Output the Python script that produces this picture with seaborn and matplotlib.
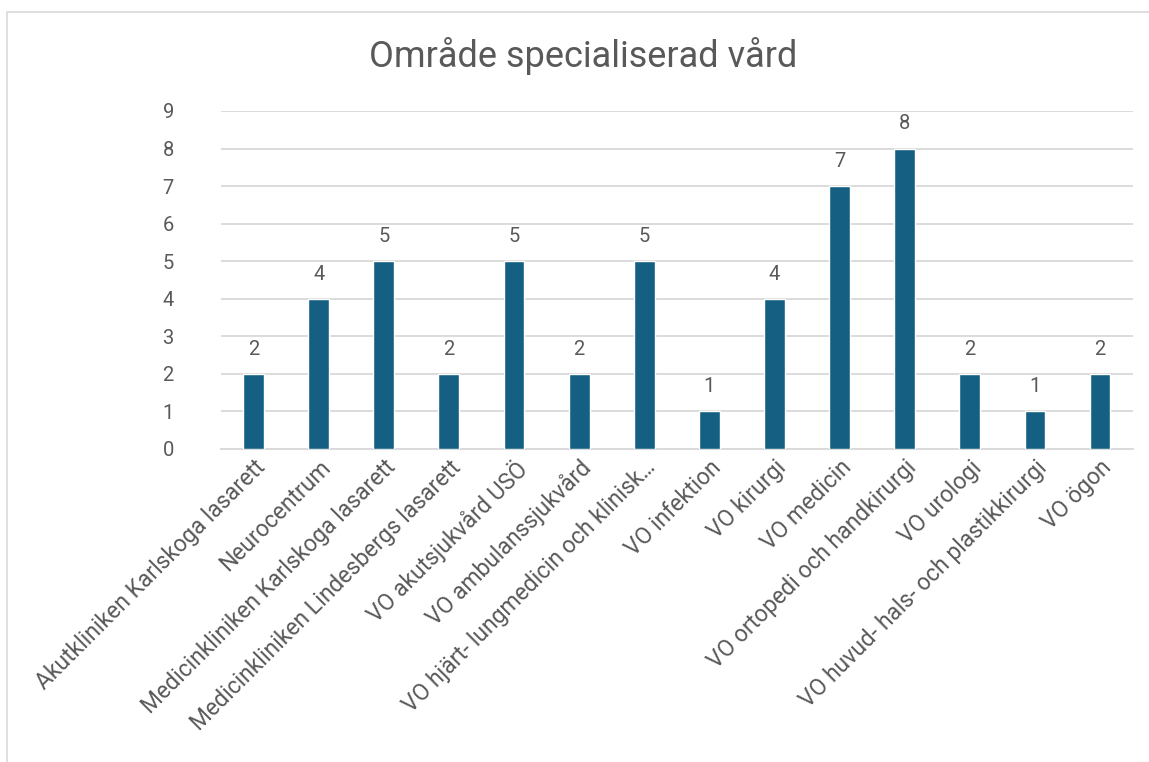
import matplotlib
matplotlib.use("Agg")
import matplotlib.pyplot as plt
import seaborn as sns
import pandas as pd
from matplotlib.patches import Rectangle

categories = [
    "Akutkliniken Karlskoga lasarett",
    "Neurocentrum",
    "Medicinkliniken Karlskoga lasarett",
    "Medicinkliniken Lindesbergs lasarett",
    "VO akutsjukvård USÖ",
    "VO ambulanssjukvård",
    "VO hjärt- lungmedicin och klinisk…",
    "VO infektion",
    "VO kirurgi",
    "VO medicin",
    "VO ortopedi och handkirurgi",
    "VO urologi",
    "VO huvud- hals- och plastikkirurgi",
    "VO ögon",
]
values = [2, 4, 5, 2, 5, 2, 5, 1, 4, 7, 8, 2, 1, 2]
title = "Område specialiserad vård"

sns.set_theme(style="white")
plt.rcParams["font.family"] = ["Roboto", "DejaVu Sans"]

txt = "#595959"
df = pd.DataFrame({"cat": categories, "val": values})

fig = plt.figure(figsize=(11.49, 7.62), dpi=100)
fig.patches.append(Rectangle((7 / 1149, -0.1), 1.2, 1 - 12 / 762 + 0.1,
                             transform=fig.transFigure, fill=False,
                             edgecolor="#D9D9D9", linewidth=1.2))
ax = fig.add_axes([221 / 1149, 1 - 449 / 762, (1132.6 - 221) / 1149, (449 - 111) / 762])
sns.barplot(data=df, x="cat", y="val", color="#156082", width=0.32,
            saturation=1, ax=ax, zorder=3)
ax.set_ylim(0, 9)
ax.set_yticks(range(10))
ax.set_xlim(-0.5, len(categories) - 0.5)
ax.grid(axis="y", color="#D9D9D9", linewidth=1.3, zorder=0)
for s in ["top", "right", "left"]:
    ax.spines[s].set_visible(False)
ax.spines["bottom"].set_color("#D9D9D9")
ax.spines["bottom"].set_linewidth(1.3)
ax.set_xlabel("")
ax.set_ylabel("")
ax.tick_params(axis="y", length=0, labelsize=14.5, labelcolor=txt, pad=38)
ax.tick_params(axis="x", length=0, labelsize=16.5, labelcolor=txt, pad=5)
plt.setp(ax.get_xticklabels(), rotation=45, ha="right", rotation_mode="anchor")
for lbl in ax.get_yticklabels():
    lbl.set_horizontalalignment("center")
for i, v in enumerate(values):
    ax.annotate(str(v), (i, v), xytext=(0, 11), textcoords="offset points",
                ha="center", va="bottom", fontsize=14.5, color=txt)
fig.text(583 / 1149, 1 - 56 / 762, title, ha="center", va="center",
         fontsize=26, color=txt)
fig.savefig("out.png", dpi=100, facecolor="white")
